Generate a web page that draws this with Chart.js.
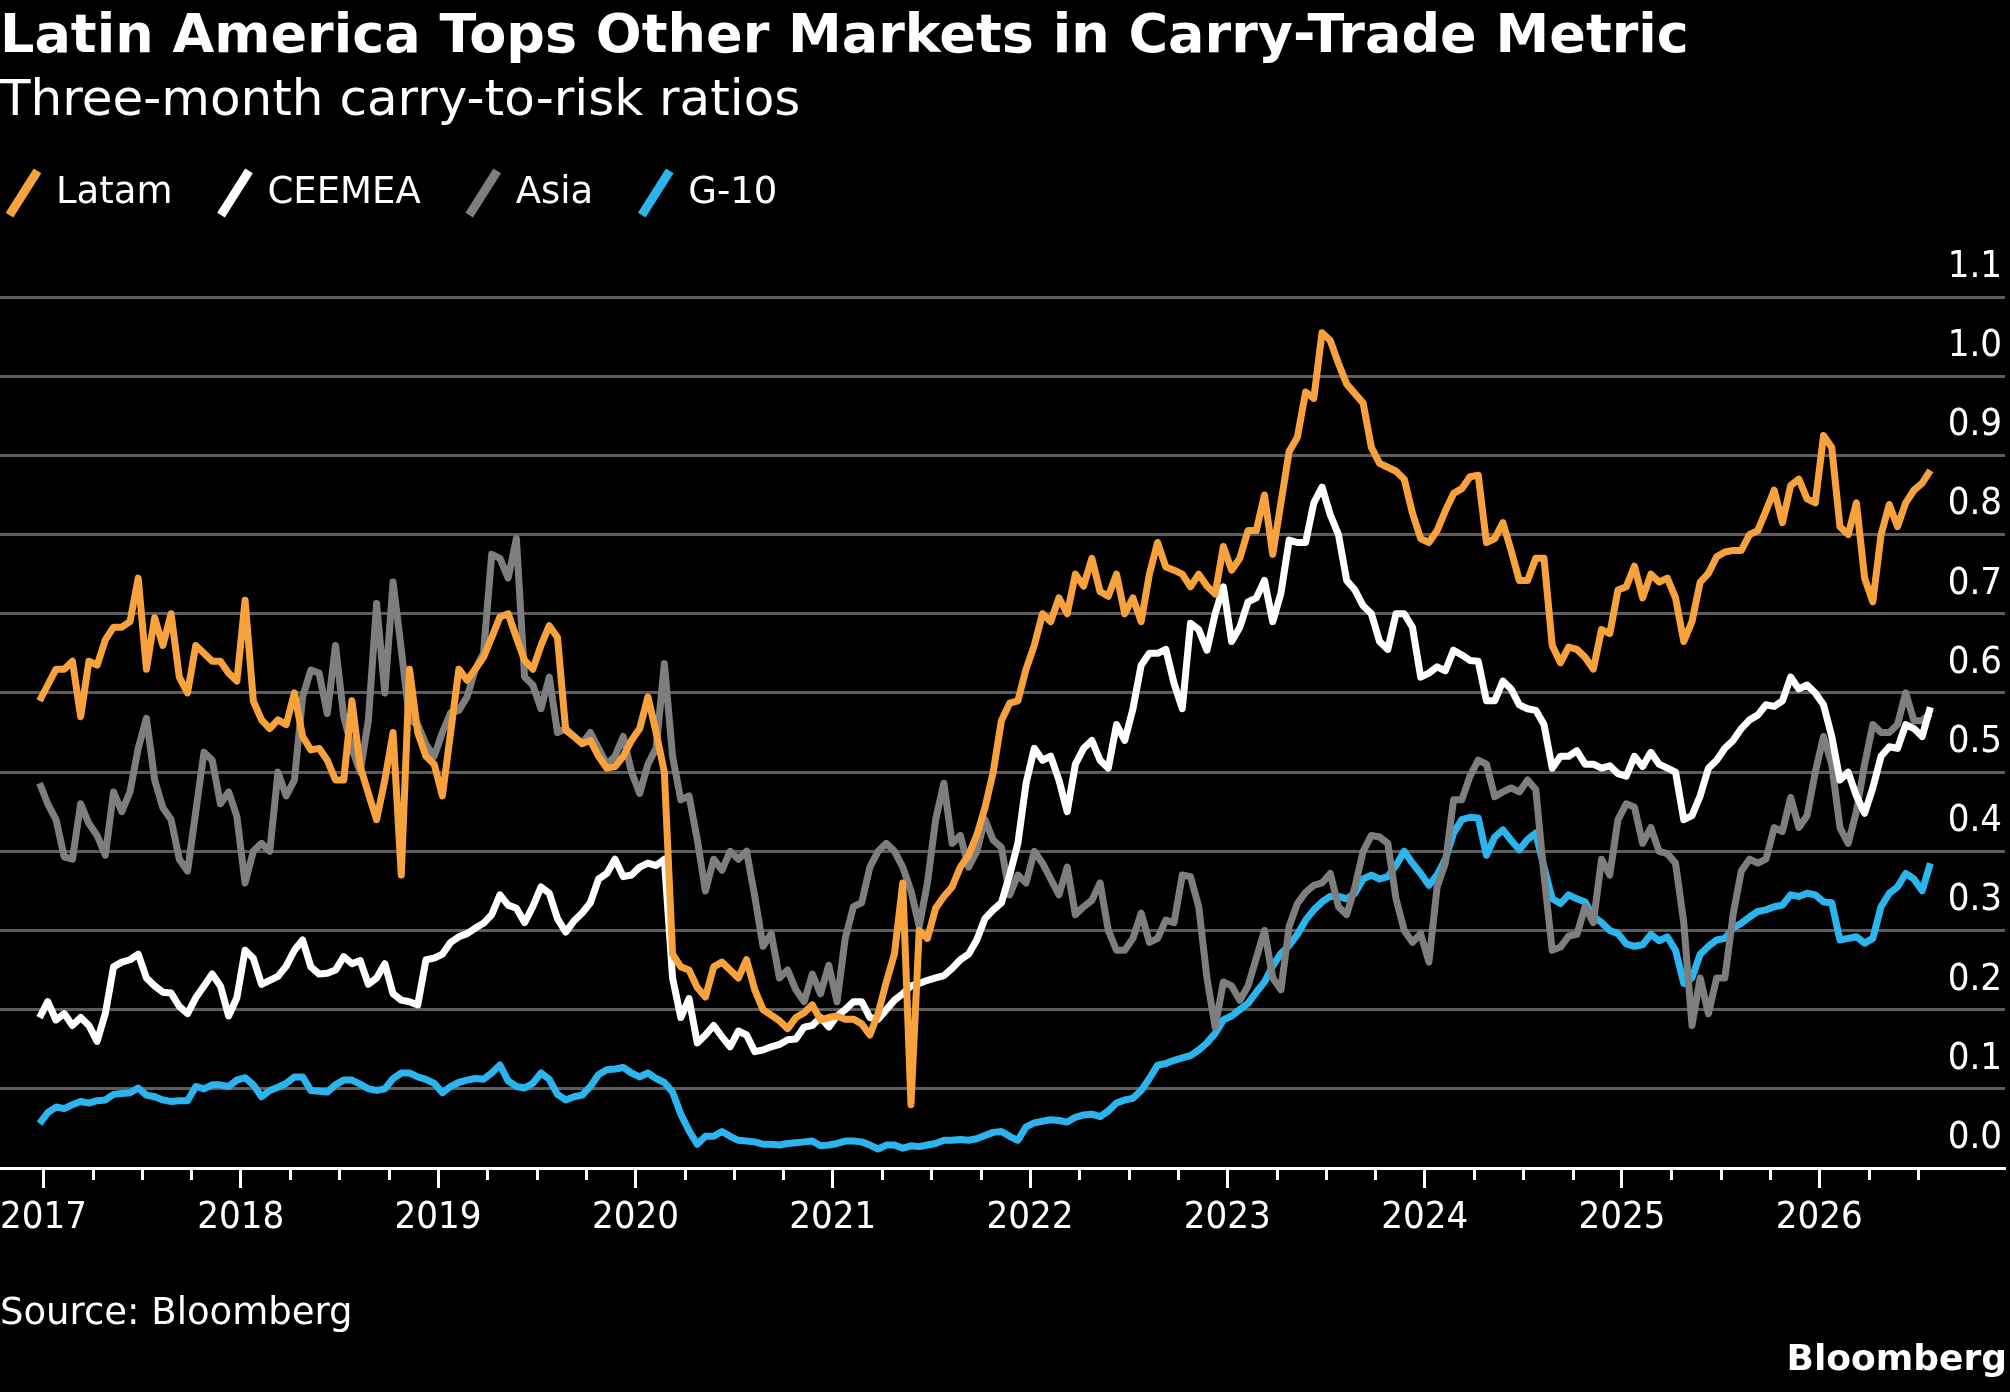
<!DOCTYPE html>
<html>
<head>
<meta charset="utf-8">
<script src="https://cdn.jsdelivr.net/npm/chart.js@4.4.1/dist/chart.umd.min.js"></script>
<style>
  html, body { margin: 0; padding: 0; background: #000; }
  #wrap { position: relative; width: 2010px; height: 1392px; overflow: hidden; }
  #canvas { position: absolute; left: 0; top: 0; }
  .note { position: absolute; color: #fff; font-family: 'DejaVu Sans', sans-serif; line-height: 1; white-space: nowrap; }
  #source { left: 0; top: 1293px; font-size: 37px; }
  #brand { right: 3px; top: 1340px; font-size: 36px; font-weight: bold; }
</style>
</head>
<body>
<div id="wrap">
  <canvas id="canvas" width="2010" height="1392"></canvas>
  <div class="note" id="source">Source: Bloomberg</div>
  <div class="note" id="brand">Bloomberg</div>
</div>
<script>
// Three-month carry-to-risk ratios, every half month from Jan 2017
let title = 'Latin America Tops Other Markets in Carry-Trade Metric';
let subtitle = 'Three-month carry-to-risk ratios';

let seriesNames = ['Latam', 'CEEMEA', 'Asia', 'G-10'];
let seriesColors = ['#f7a23c', '#ffffff', '#7e7e7e', '#2bb4ee'];

let latam = [
  0.59, 0.61, 0.63, 0.63, 0.64, 0.57, 0.64, 0.635, 0.667, 0.683, 0.683, 0.69,
  0.745, 0.63, 0.695, 0.66, 0.70, 0.62, 0.60, 0.66, 0.65, 0.64, 0.64, 0.625,
  0.615, 0.717, 0.59, 0.566, 0.555, 0.566, 0.56, 0.60, 0.545, 0.528, 0.53, 0.515,
  0.49, 0.49, 0.59, 0.507, 0.473, 0.44, 0.49, 0.55, 0.37, 0.63, 0.55, 0.52,
  0.51, 0.47, 0.55, 0.63, 0.616, 0.63, 0.645, 0.67, 0.696, 0.70, 0.67, 0.641,
  0.63, 0.66, 0.685, 0.67, 0.553, 0.545, 0.536, 0.54, 0.52, 0.505, 0.507, 0.52,
  0.54, 0.555, 0.595, 0.55, 0.50, 0.27, 0.254, 0.25, 0.228, 0.216, 0.254, 0.26,
  0.25, 0.24, 0.263, 0.225, 0.20, 0.193, 0.186, 0.176, 0.19, 0.196, 0.206, 0.187,
  0.19, 0.192, 0.188, 0.188, 0.182, 0.168, 0.195, 0.235, 0.271, 0.36, 0.08, 0.30,
  0.29, 0.328, 0.343, 0.355, 0.38, 0.395, 0.42, 0.455, 0.50, 0.565, 0.587, 0.59,
  0.63, 0.66, 0.70, 0.69, 0.72, 0.70, 0.75, 0.735, 0.77, 0.728, 0.722, 0.75,
  0.70, 0.72, 0.69, 0.75, 0.79, 0.759, 0.755, 0.75, 0.734, 0.75, 0.735, 0.725,
  0.785, 0.755, 0.77, 0.805, 0.805, 0.85, 0.775, 0.84, 0.905, 0.923, 0.98, 0.972,
  1.055, 1.045, 1.016, 0.99, 0.978, 0.966, 0.91, 0.89, 0.885, 0.88, 0.87, 0.827,
  0.795, 0.79, 0.805, 0.83, 0.852, 0.858, 0.873, 0.875, 0.79, 0.795, 0.815, 0.78,
  0.742, 0.742, 0.77, 0.77, 0.66, 0.638, 0.658, 0.655, 0.645, 0.63, 0.68, 0.675,
  0.73, 0.734, 0.76, 0.72, 0.75, 0.74, 0.745, 0.72, 0.665, 0.69, 0.74, 0.751,
  0.772, 0.778, 0.78, 0.78, 0.80, 0.805, 0.83, 0.856, 0.815, 0.862, 0.87, 0.845,
  0.84, 0.925, 0.91, 0.81, 0.80, 0.84, 0.745, 0.715, 0.80, 0.838, 0.81, 0.84,
  0.856, 0.865, 0.881
];

let ceemea = [
  0.19, 0.21, 0.187, 0.195, 0.18, 0.19, 0.18, 0.16, 0.195, 0.254, 0.26, 0.263,
  0.27, 0.24, 0.23, 0.222, 0.221, 0.204, 0.195, 0.215, 0.23, 0.245, 0.23, 0.192,
  0.215, 0.275, 0.265, 0.232, 0.237, 0.242, 0.255, 0.275, 0.288, 0.254, 0.245, 0.246,
  0.25, 0.267, 0.258, 0.262, 0.232, 0.24, 0.258, 0.22, 0.212, 0.21, 0.206, 0.263,
  0.265, 0.27, 0.285, 0.292, 0.296, 0.303, 0.309, 0.32, 0.345, 0.332, 0.328, 0.31,
  0.33, 0.355, 0.347, 0.315, 0.298, 0.312, 0.322, 0.335, 0.365, 0.372, 0.39, 0.368,
  0.37, 0.38, 0.385, 0.382, 0.39, 0.24, 0.19, 0.214, 0.158, 0.168, 0.18, 0.166,
  0.153, 0.173, 0.168, 0.147, 0.149, 0.153, 0.156, 0.162, 0.163, 0.178, 0.18, 0.19,
  0.178, 0.192, 0.20, 0.21, 0.21, 0.19, 0.188, 0.20, 0.212, 0.22, 0.23, 0.233,
  0.237, 0.24, 0.243, 0.252, 0.263, 0.27, 0.288, 0.315, 0.326, 0.335, 0.37, 0.41,
  0.486, 0.53, 0.515, 0.52, 0.49, 0.45, 0.51, 0.53, 0.54, 0.515, 0.505, 0.56,
  0.54, 0.58, 0.635, 0.65, 0.65, 0.655, 0.612, 0.58, 0.688, 0.68, 0.654, 0.70,
  0.734, 0.665, 0.683, 0.715, 0.72, 0.742, 0.69, 0.726, 0.793, 0.79, 0.79, 0.84,
  0.86, 0.825, 0.80, 0.742, 0.73, 0.71, 0.70, 0.665, 0.655, 0.70, 0.70, 0.683,
  0.62, 0.625, 0.633, 0.628, 0.654, 0.648, 0.641, 0.64, 0.59, 0.59, 0.615, 0.605,
  0.585, 0.58, 0.578, 0.56, 0.505, 0.52, 0.52, 0.527, 0.51, 0.51, 0.505, 0.508,
  0.498, 0.495, 0.52, 0.507, 0.525, 0.51, 0.505, 0.50, 0.44, 0.445, 0.47, 0.505,
  0.515, 0.53, 0.54, 0.555, 0.566, 0.572, 0.585, 0.583, 0.59, 0.62, 0.605, 0.61,
  0.60, 0.585, 0.545, 0.49, 0.50, 0.47, 0.448, 0.48, 0.52, 0.532, 0.53, 0.56,
  0.555, 0.545, 0.582
];

let asia = [
  0.486, 0.46, 0.44, 0.393, 0.39, 0.46, 0.435, 0.42, 0.395, 0.475, 0.45, 0.475,
  0.53, 0.568, 0.49, 0.455, 0.44, 0.39, 0.375, 0.45, 0.525, 0.515, 0.46, 0.475,
  0.444, 0.36, 0.40, 0.41, 0.40, 0.50, 0.47, 0.49, 0.595, 0.629, 0.625, 0.574,
  0.66, 0.57, 0.53, 0.50, 0.566, 0.713, 0.60, 0.74, 0.655, 0.566, 0.56, 0.535,
  0.52, 0.55, 0.575, 0.578, 0.595, 0.63, 0.65, 0.775, 0.77, 0.745, 0.795, 0.62,
  0.61, 0.58, 0.62, 0.55, 0.555, 0.545, 0.536, 0.55, 0.53, 0.51, 0.52, 0.545,
  0.50, 0.473, 0.51, 0.53, 0.637, 0.52, 0.465, 0.47, 0.415, 0.35, 0.39, 0.376,
  0.40, 0.39, 0.40, 0.343, 0.28, 0.296, 0.24, 0.25, 0.225, 0.21, 0.245, 0.22,
  0.256, 0.21, 0.29, 0.33, 0.335, 0.38, 0.40, 0.41, 0.40, 0.38, 0.35, 0.305,
  0.36, 0.44, 0.486, 0.41, 0.42, 0.38, 0.40, 0.44, 0.414, 0.405, 0.345, 0.37,
  0.36, 0.40, 0.385, 0.365, 0.345, 0.38, 0.32, 0.33, 0.338, 0.36, 0.30, 0.275,
  0.275, 0.29, 0.322, 0.285, 0.29, 0.313, 0.31, 0.37, 0.368, 0.33, 0.24, 0.178,
  0.235, 0.23, 0.212, 0.23, 0.265, 0.30, 0.24, 0.225, 0.305, 0.334, 0.348, 0.357,
  0.36, 0.372, 0.33, 0.32, 0.355, 0.40, 0.42, 0.418, 0.41, 0.34, 0.30, 0.285,
  0.296, 0.26, 0.355, 0.385, 0.465, 0.465, 0.495, 0.515, 0.51, 0.469, 0.475, 0.48,
  0.475, 0.49, 0.478, 0.37, 0.275, 0.279, 0.293, 0.295, 0.33, 0.31, 0.39, 0.37,
  0.44, 0.46, 0.456, 0.41, 0.43, 0.40, 0.397, 0.385, 0.31, 0.18, 0.24, 0.195,
  0.24, 0.24, 0.32, 0.375, 0.39, 0.385, 0.39, 0.43, 0.425, 0.468, 0.43, 0.445,
  0.50, 0.545, 0.51, 0.43, 0.41, 0.45, 0.51, 0.56, 0.55, 0.55, 0.56, 0.60,
  0.565, 0.565, 0.574
];

let g10 = [
  0.056, 0.07, 0.077, 0.075, 0.08, 0.084, 0.082, 0.085, 0.086, 0.093, 0.094, 0.095,
  0.101, 0.092, 0.09, 0.086, 0.084, 0.085, 0.085, 0.103, 0.10, 0.105, 0.105, 0.103,
  0.111, 0.114, 0.105, 0.09, 0.098, 0.102, 0.107, 0.115, 0.115, 0.098, 0.097, 0.096,
  0.105, 0.111, 0.111, 0.106, 0.10, 0.098, 0.10, 0.113, 0.12, 0.12, 0.115, 0.112,
  0.107, 0.095, 0.103, 0.108, 0.111, 0.113, 0.112, 0.12, 0.13, 0.11, 0.103, 0.101,
  0.107, 0.12, 0.112, 0.093, 0.086, 0.09, 0.092, 0.103, 0.118, 0.124, 0.125, 0.127,
  0.12, 0.115, 0.12, 0.113, 0.108, 0.096, 0.068, 0.047, 0.03, 0.04, 0.04, 0.046,
  0.04, 0.035, 0.034, 0.033, 0.03, 0.03, 0.029, 0.031, 0.032, 0.033, 0.034, 0.028,
  0.029, 0.031, 0.034, 0.034, 0.033, 0.029, 0.024, 0.029, 0.029, 0.025, 0.028, 0.027,
  0.029, 0.031, 0.035, 0.035, 0.036, 0.035, 0.037, 0.041, 0.045, 0.046, 0.04, 0.035,
  0.052, 0.057, 0.059, 0.061, 0.06, 0.058, 0.064, 0.067, 0.068, 0.065, 0.072, 0.082,
  0.086, 0.088, 0.098, 0.113, 0.13, 0.132, 0.136, 0.139, 0.142, 0.149, 0.158, 0.17,
  0.187, 0.192, 0.20, 0.208, 0.222, 0.235, 0.255, 0.271, 0.281, 0.295, 0.313, 0.326,
  0.336, 0.343, 0.343, 0.34, 0.347, 0.365, 0.37, 0.365, 0.368, 0.382, 0.40, 0.385,
  0.372, 0.357, 0.37, 0.39, 0.423, 0.44, 0.443, 0.442, 0.395, 0.418, 0.427, 0.414,
  0.402, 0.415, 0.423, 0.38, 0.34, 0.334, 0.345, 0.34, 0.336, 0.318, 0.31, 0.30,
  0.296, 0.283, 0.28, 0.282, 0.295, 0.287, 0.292, 0.275, 0.233, 0.24, 0.27, 0.28,
  0.288, 0.29, 0.303, 0.309, 0.317, 0.324, 0.326, 0.33, 0.332, 0.345, 0.343, 0.347,
  0.345, 0.336, 0.335, 0.288, 0.29, 0.292, 0.284, 0.29, 0.33, 0.347, 0.355, 0.372,
  0.365, 0.35, 0.385
];

let yearTicks = [2017, 2018, 2019, 2020, 2021, 2022, 2023, 2024, 2025, 2026];
let yTicks = [0, 0.1, 0.2, 0.3, 0.4, 0.5, 0.6, 0.7, 0.8, 0.9, 1.0, 1.1];

// half-monthly observation dates as decimal years
let firstDate = 2016.98;
let dates = latam.map((v, i) => firstDate + i / 24);
let lastTick = 2026.5;

let seriesValues = [latam, ceemea, asia, g10];
let tickFont = { family: "'DejaVu Sans Condensed', 'DejaVu Sans', sans-serif", size: 38 };

// quarter marks between the years (shorter ticks)
let minorTicks = {
  id: 'minorTicks',
  afterDraw(chart) {
    let x = chart.scales.x;
    let c = chart.ctx;
    c.save();
    c.strokeStyle = '#ffffff';
    c.lineWidth = 3;
    x.ticks.forEach(t => {
      if (yearTicks.includes(t.value)) return;
      let px = Math.round(x.getPixelForValue(t.value)) + 0.5;
      c.beginPath();
      c.moveTo(px, x.top);
      c.lineTo(px, x.top + 12);
      c.stroke();
    });
    c.restore();
  }
};

// legend items sit flush with the left edge like the title
let legendShift = {
  id: 'legendShift',
  afterLayout(chart) {
    chart.legend.left -= 39;
    chart.legend.right -= 39;
  }
};

let options = {
  type: 'line',
  data: {
    labels: dates,
    datasets: seriesNames.map((name, k) => ({
      label: name,
      data: seriesValues[k],
      borderColor: seriesColors[k],
      backgroundColor: seriesColors[k],
      borderWidth: 7,
      borderJoinStyle: 'round',
      pointRadius: 0,
      pointHoverRadius: 0,
      pointStyle: 'line',
      pointRotation: -58,
      pointBorderWidth: 9,
      tension: 0
    }))
  },
  options: {
    responsive: false,
    animation: false,
    devicePixelRatio: 1,
    events: [],
    layout: { padding: { left: 0, right: 5, top: 0, bottom: 144 } },
    scales: {
      x: {
        type: 'linear',
        min: 2016.7795,
        max: 2026.9415,
        afterBuildTicks: scale => {
          let ticks = [];
          yearTicks.forEach(y => {
            [0, 0.25, 0.5, 0.75].forEach(q => {
              if (y + q <= lastTick) ticks.push({ value: y + q });
            });
          });
          scale.ticks = ticks;
        },
        afterFit: scale => { scale.paddingLeft = 0; scale.paddingRight = 0; },
        ticks: {
          autoSkip: false,
          maxRotation: 0,
          padding: 7.2,
          color: '#ffffff',
          font: tickFont,
          callback: v => yearTicks.includes(v) ? String(v) : ''
        },
        grid: {
          display: true,
          drawOnChartArea: false,
          drawTicks: true,
          tickLength: 20,
          tickWidth: 3,
          tickColor: ctx => (ctx.tick && yearTicks.includes(ctx.tick.value)) ? '#ffffff' : 'rgba(0,0,0,0)'
        },
        border: { display: true, color: '#ffffff', width: 3 }
      },
      y: {
        position: 'right',
        min: 0,
        max: 1.1954,
        afterBuildTicks: scale => { scale.ticks = yTicks.map(v => ({ value: v })); },
        ticks: {
          mirror: true,
          padding: -3,
          labelOffset: -30,
          color: '#ffffff',
          font: tickFont,
          callback: v => v.toFixed(1)
        },
        grid: { color: '#5c5c5c', lineWidth: 3, drawTicks: false },
        border: { display: false }
      }
    },
    plugins: {
      title: {
        display: true,
        text: title,
        align: 'start',
        color: '#ffffff',
        font: { family: 'DejaVu Sans', size: 54, weight: 'bold', lineHeight: 1 },
        padding: { top: 10.5, bottom: 0 }
      },
      subtitle: {
        display: true,
        text: subtitle,
        align: 'start',
        color: '#ffffff',
        font: { family: 'DejaVu Sans', size: 50, lineHeight: 0.66 },
        padding: { top: 21.5, bottom: 7 }
      },
      legend: {
        display: true,
        position: 'top',
        align: 'start',
        labels: {
          usePointStyle: true,
          pointStyleWidth: 28,
          padding: 48.5,
          color: '#ffffff',
          font: { family: 'DejaVu Sans', size: 37 }
        }
      },
      tooltip: { enabled: false }
    }
  },
  plugins: [minorTicks, legendShift]
};

let chart = new Chart(document.getElementById('canvas'), options);
</script>
</body>
</html>
